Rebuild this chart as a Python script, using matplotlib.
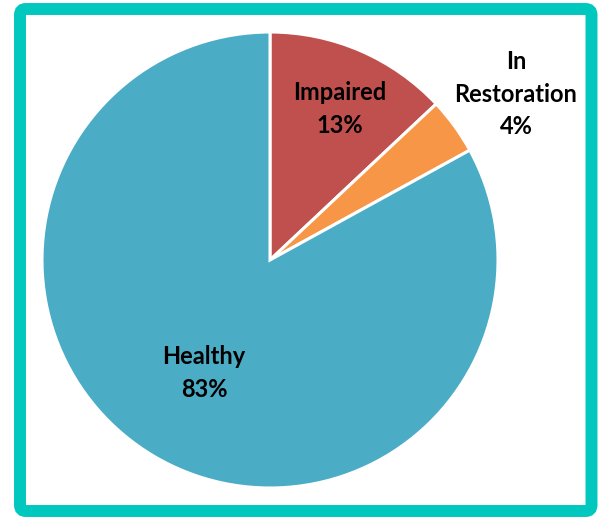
import matplotlib
matplotlib.use('Agg')
import matplotlib.pyplot as plt
from matplotlib.patches import FancyBboxPatch

# slices, clockwise from 12 o'clock
labels = ['Impaired', 'In\nRestoration', 'Healthy']
shares = [13, 4, 83]
colors = ['#c0504d', '#f79646', '#4bacc6']

# label positions in pixel coords (x from left, y from top)
label_xy = [(340, 109), (516, 94), (204, 373)]

W, H = 600, 517
fig = plt.figure(figsize=(W / 100, H / 100), dpi=100)
ax = fig.add_axes([0, 0, 1, 1])

ax.pie(shares, colors=colors, startangle=90, counterclock=False,
       center=(270, H - 260), radius=228, frame=True,
       wedgeprops=dict(edgecolor='white', linewidth=2.2))
ax.set_xlim(0, W)
ax.set_ylim(0, H)
ax.set_aspect('equal')
ax.axis('off')

for lab, pct, (x, y) in zip(labels, shares, label_xy):
    ax.text(x, H - y, '%s\n%d%%' % (lab, pct), ha='center', va='center',
            fontsize=17, fontweight='bold', family='Lato',
            linespacing=1.48, color='black')

# teal frame
border = FancyBboxPatch((20, 6), 571.5, 502,
                        boxstyle='round,pad=0,rounding_size=6',
                        fill=False, edgecolor='#00c8be', linewidth=8.6,
                        clip_on=False)
ax.add_patch(border)

fig.savefig('out.png', dpi=100)
